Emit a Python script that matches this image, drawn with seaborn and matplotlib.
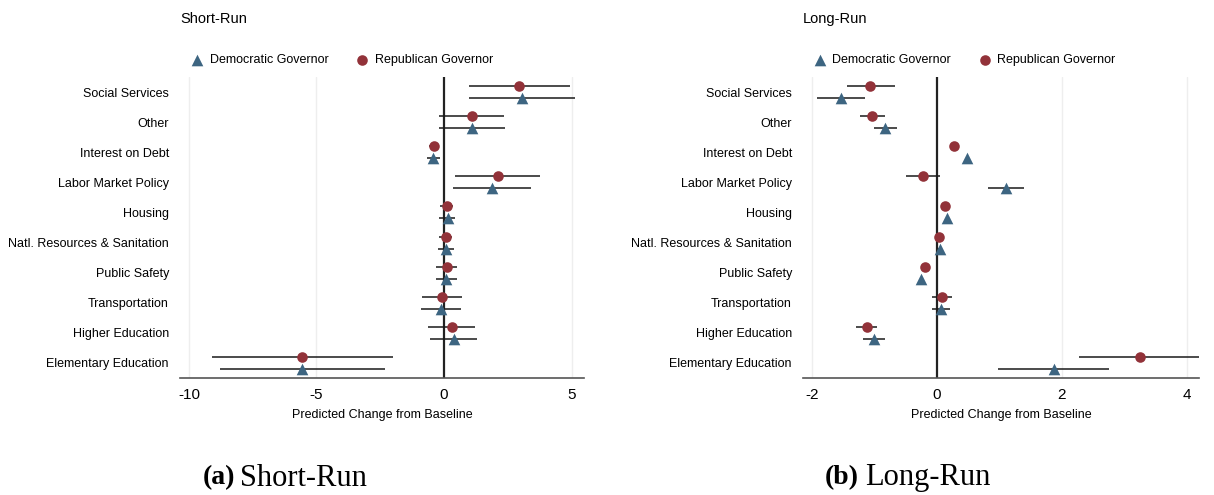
import matplotlib
matplotlib.use("Agg")
import matplotlib.pyplot as plt
import numpy as np
import pandas as pd
import seaborn as sns

categories = ["Social Services", "Other", "Interest on Debt", "Labor Market Policy",
              "Housing", "Natl. Resources & Sanitation", "Public Safety",
              "Transportation", "Higher Education", "Elementary Education"]

# short-run estimates and 95% CIs
sr_rep = [2.96, 1.10, -0.40, 2.10, 0.12, 0.08, 0.10, -0.08, 0.30, -5.56]
sr_rep_lo = [0.98, -0.20, -0.57, 0.45, -0.15, -0.18, -0.30, -0.87, -0.63, -9.08]
sr_rep_hi = [4.95, 2.36, -0.18, 3.75, 0.35, 0.33, 0.50, 0.72, 1.23, -1.98]
sr_dem = [3.05, 1.10, -0.42, 1.90, 0.15, 0.08, 0.09, -0.12, 0.38, -5.56]
sr_dem_lo = [1.00, -0.20, -0.65, 0.35, -0.18, -0.22, -0.33, -0.90, -0.53, -8.78]
sr_dem_hi = [5.15, 2.40, -0.15, 3.42, 0.45, 0.40, 0.50, 0.68, 1.29, -2.30]

# long-run estimates and 95% CIs
lr_rep = [-1.07, -1.04, 0.27, -0.23, 0.13, 0.03, -0.20, 0.08, -1.13, 3.25]
lr_rep_lo = [-1.45, -1.23, 0.25, -0.50, 0.11, 0.01, -0.22, -0.08, -1.30, 2.27]
lr_rep_hi = [-0.67, -0.84, 0.29, 0.05, 0.15, 0.05, -0.18, 0.24, -0.96, 4.21]
lr_dem = [-1.54, -0.83, 0.48, 1.10, 0.16, 0.04, -0.26, 0.06, -1.01, 1.88]
lr_dem_lo = [-1.92, -1.01, 0.46, 0.81, 0.14, 0.02, -0.28, -0.08, -1.18, 0.98]
lr_dem_hi = [-1.16, -0.64, 0.50, 1.39, 0.18, 0.06, -0.24, 0.20, -0.84, 2.76]

parties = ["Democratic Governor", "Republican Governor"]
colors = {"Democratic Governor": "#3d6581", "Republican Governor": "#923239"}
markers = {"Democratic Governor": "^", "Republican Governor": "o"}
msizes = {"Democratic Governor": 70, "Republican Governor": 58}
offsets = {"Democratic Governor": 0.2, "Republican Governor": -0.2}


def make_df(dem, dem_lo, dem_hi, rep, rep_lo, rep_hi):
    rows = []
    for i, c in enumerate(categories):
        rows.append(dict(cat=c, idx=i, party=parties[0], est=dem[i], lo=dem_lo[i], hi=dem_hi[i]))
        rows.append(dict(cat=c, idx=i, party=parties[1], est=rep[i], lo=rep_lo[i], hi=rep_hi[i]))
    df = pd.DataFrame(rows)
    df["y"] = df["idx"] + df["party"].map(offsets)
    return df


sr_df = make_df(sr_dem, sr_dem_lo, sr_dem_hi, sr_rep, sr_rep_lo, sr_rep_hi)
lr_df = make_df(lr_dem, lr_dem_lo, lr_dem_hi, lr_rep, lr_rep_lo, lr_rep_hi)

sns.set_style("white")
plt.rcParams["font.family"] = ["Liberation Sans", "DejaVu Sans"]
plt.rcParams["text.color"] = "black"
plt.rcParams["axes.labelcolor"] = "black"
plt.rcParams["xtick.color"] = "black"
plt.rcParams["ytick.color"] = "black"

fig = plt.figure(figsize=(12.14, 4.95), dpi=100)
W, H = 1214, 495
ax1 = fig.add_axes([180 / W, 1 - 378 / H, 404 / W, 301 / H])
ax2 = fig.add_axes([803 / W, 1 - 378 / H, 396 / W, 301 / H])


def draw(ax, df, xlim, xticks, title):
    for xt in xticks:
        if xt != 0:
            ax.axvline(xt, color="#eeeeee", lw=1, zorder=0)
    ax.axvline(0, color="#222222", lw=1.6, zorder=1)
    ax.hlines(df["y"], df["lo"], df["hi"], color="#1a1a1a", lw=1.1, zorder=2)
    for p in parties:
        sub = df[df["party"] == p]
        sns.scatterplot(data=sub, x="est", y="y", ax=ax, color=colors[p],
                        marker=markers[p], s=msizes[p], linewidth=0,
                        label=p, zorder=3)
    ax.set_xlim(*xlim)
    ax.set_ylim(9.5, -0.5)
    ax.set_xticks(xticks)
    ax.set_xticklabels([f"{t:g}" for t in xticks], fontsize=11)
    ax.set_yticks(range(len(categories)))
    ax.set_yticklabels(categories, fontsize=9)
    ax.tick_params(axis="y", length=0, pad=8)
    ax.tick_params(axis="x", length=0, pad=7)
    ax.set_xlabel("Predicted Change from Baseline", fontsize=9, labelpad=5)
    ax.set_ylabel("")
    for s in ["left", "right", "top"]:
        ax.spines[s].set_visible(False)
    ax.spines["bottom"].set_color("#555555")
    ax.spines["bottom"].set_linewidth(1.2)
    ax.set_title(title, loc="left", fontsize=10.5, pad=39)
    ax.legend(loc="center left", bbox_to_anchor=(0.027, 1 + 17 / 301), ncol=2,
              frameon=False, fontsize=9, handlelength=1.0, handletextpad=0.5,
              columnspacing=2.2, borderpad=0, borderaxespad=0, markerscale=1.0)


draw(ax1, sr_df, (-10.35, 5.49), [-10, -5, 0, 5], "Short-Run")
draw(ax2, lr_df, (-2.15, 4.2), [-2, 0, 2, 4], "Long-Run")

serif = ["Liberation Serif", "DejaVu Serif"]
cy = 1 - 478 / H
fig.text(235 / W, cy, "(a)", ha="right", va="center", fontsize=20, fontweight="bold", family=serif)
fig.text(240 / W, cy, "Short-Run", ha="left", va="center", fontsize=22, family=serif)
fig.text(859 / W, cy, "(b)", ha="right", va="center", fontsize=20, fontweight="bold", family=serif)
fig.text(865 / W, cy, "Long-Run", ha="left", va="center", fontsize=22, family=serif)

fig.savefig("out.png", dpi=100)
